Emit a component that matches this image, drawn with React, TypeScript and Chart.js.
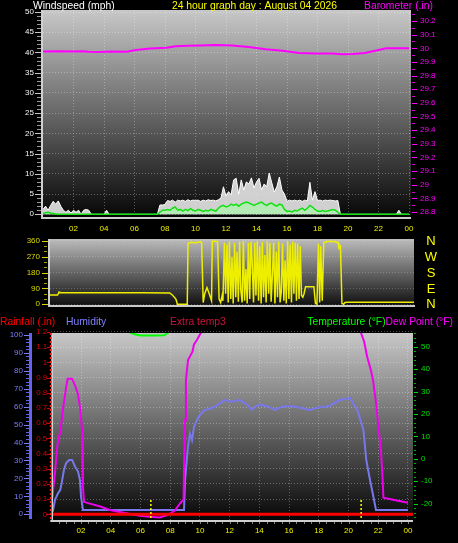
import React, { useEffect, useRef } from "react";
import { Chart, registerables } from "chart.js";

Chart.register(...registerables);

// ---------- tick labels ----------
const hourTicks = [2, 4, 6, 8, 10, 12, 14, 16, 18, 20, 22, 24];
const hourLabels = ["02", "04", "06", "08", "10", "12", "14", "16", "18", "20", "22", "00"];
const windTicks = [0, 5, 10, 15, 20, 25, 30, 35, 40, 45, 50];
const baroTicks = [28.8, 28.9, 29.0, 29.1, 29.2, 29.3, 29.4, 29.5, 29.6, 29.7, 29.8, 29.9, 30.0, 30.1, 30.2];
const dirTicks = [0, 90, 180, 270, 360];
const compassLabels = ["N", "E", "S", "W", "N"];
const humTicks = [0, 10, 20, 30, 40, 50, 60, 70, 80, 90, 100];
const rainTicks = [0, 0.1, 0.2, 0.3, 0.4, 0.5, 0.6, 0.7, 0.8, 0.9, 1.0, 1.1, 1.2];
const tempTicks = [-20, -10, 0, 10, 20, 30, 40, 50];

// ---------- titles ----------
const titleWind = "Windspeed (mph)";
const titleDate = "24 hour graph day : August 04 2026";
const titleBaro = "Barometer (.in)";
const titleRain = "Rainfall (.in)";
const titleHum = "Humidity";
const titleExtra = "Extra temp3";
const titleTemp = "Temperature (°F)";
const titleDew = "Dew Point (°F)";

// ---------- wind (10-minute samples, mph) ----------
const windSampleMinutes = 10;
const windGust = [
  1.2, 2.0, 1.0, 2.2, 3.2, 2.5, 3.3, 2.0, 1.0, 0.5, 1.0, 0.3, 1.0, 0.5, 1.0, 0, 1.0, 1.2, 1.0,
  0, 0, 0, 0, 0, 0,
  1.0,
  0, 0, 0, 0, 0, 0, 0, 0, 0, 0, 0, 0, 0, 0, 0, 0, 0, 0, 0, 0,
  2.3, 2.3, 2.4, 3.4, 3.2, 3.5, 3.0, 3.5, 3.3, 3.5, 3.2, 3.6, 3.3, 3.5, 3.4, 3.5, 3.2, 3.5, 3.3, 3.6, 3.4, 3.5, 3.3, 3.6,
  4.0, 6.8, 4.5, 5.6, 4.8, 8.5, 8.9, 5.0, 8.5, 6.0, 8.0, 7.5, 9.0, 6.5, 8.0, 8.9, 6.0, 7.5, 6.8, 10.2, 7.8, 5.5, 6.8, 9.2, 6.0, 5.0,
  3.2, 3.5, 3.3, 3.5, 3.3, 3.5, 3.2, 3.5, 3.3, 7.9, 3.5, 5.6, 3.4, 3.5, 3.3, 3.5, 3.4, 3.5, 3.4, 3.3, 3.4,
  0, 0, 0, 0, 0, 0, 0, 0, 0, 0, 0, 0, 0, 0, 0, 0, 0, 0, 0, 0, 0, 0, 0,
  1.0,
  0, 0, 0, 0,
];
const windAvg = [
  0.2, 0.4, 0.5, 0.3, 0.2, 0.1, 0, 0, 0,
  0, 0, 0, 0, 0, 0, 0, 0, 0, 0, 0, 0, 0, 0, 0, 0, 0, 0, 0, 0, 0, 0, 0, 0, 0, 0, 0, 0, 0, 0, 0, 0, 0, 0, 0, 0, 0,
  0.5, 1.0, 1.0, 1.2, 1.0, 1.5, 1.8, 1.0, 1.2, 0.8, 1.2, 0.9, 1.4, 1.0, 0.8, 1.2, 1.0, 0.7, 1.0, 0.8, 1.2, 1.0, 0.8, 1.5,
  2.0, 2.2, 1.8, 2.0, 2.5, 2.2, 2.5, 2.0, 2.5, 2.8, 3.0, 2.8, 2.5, 2.2, 2.5, 2.8, 3.0, 2.5, 2.2, 2.6, 2.8, 2.3, 2.0, 2.5, 2.3, 1.2,
  0.7, 0.8, 0.6, 1.0, 0.8, 1.2, 1.5, 1.0, 1.5, 2.2, 1.8, 1.2, 0.8, 0.7, 0.9, 0.7, 0.8, 1.0, 1.2, 1.0, 0.5,
  0, 0, 0, 0, 0, 0, 0, 0, 0, 0, 0, 0, 0, 0, 0, 0, 0, 0, 0, 0, 0, 0, 0, 0, 0, 0, 0, 0,
];

// ---------- barometer (hours, inHg) ----------
const baroTimes = [0, 1, 2, 2.6, 3, 3.7, 4.5, 5.5, 6.1, 7.0, 8.1, 8.7, 9.5, 10.3, 11.3, 12.4, 13.5, 14.6, 15.7, 16.8, 17.9, 19.0, 19.6, 20.3, 21.1, 22.0, 22.5, 23.2, 24];
const baroValues = [29.976, 29.978, 29.976, 29.979, 29.975, 29.973, 29.976, 29.975, 29.988, 29.998, 30.005, 30.015, 30.018, 30.02, 30.024, 30.02, 30.01, 29.993, 29.982, 29.966, 29.962, 29.962, 29.956, 29.958, 29.966, 29.988, 30.0, 30.0, 30.0];

// ---------- wind direction (hours, degrees) ----------
const dirTimes = [
  0, 0.5, 0.6, 0.7, 3, 6, 7.9, 8.1, 8.3, 8.4,
  9.05, 9.1, 9.3, 9.6, 9.9, 10.0, 10.1, 10.2, 10.35, 10.5,
  10.65, 10.7, 10.9, 11.05, 11.15, 11.25, 11.35, 11.4, 11.5, 11.58,
  11.67, 11.75, 11.83, 11.92, 12.0, 12.08, 12.17, 12.25, 12.33, 12.42,
  12.5, 12.58, 12.67, 12.75, 12.83, 12.92, 13.0, 13.08, 13.17, 13.25,
  13.33, 13.42, 13.5, 13.58, 13.67, 13.75, 13.83, 13.92, 14.0, 14.08,
  14.17, 14.25, 14.33, 14.42, 14.5, 14.58, 14.67, 14.75, 14.83, 14.92,
  15.0, 15.08, 15.17, 15.25, 15.33, 15.42, 15.5, 15.58, 15.67, 15.75,
  15.83, 15.92, 16.0, 16.08, 16.17, 16.25, 16.33, 16.42, 16.5, 16.58,
  16.67, 16.75, 16.85, 17.4, 17.5, 17.6, 17.7, 17.78, 17.85, 17.95,
  18.05, 18.2, 18.5, 18.8, 19.0, 19.05, 19.15, 19.25, 19.35, 19.45,
  19.6, 24,
];
const dirValues = [
  53, 53, 70, 66, 66, 65, 64, 50, 30, 0,
  0, 345, 352, 350, 355, 350, 10, 60, 95, 60,
  20, 358, 358, 355, 30, 10, 50, 20, 350, 60,
  340, 10, 355, 30, 270, 5, 350, 40, 300, 15,
  355, 80, 10, 358, 20, 200, 5, 350, 30, 355,
  240, 10, 350, 50, 358, 20, 330, 5, 355, 40,
  280, 10, 358, 60, 350, 15, 180, 350, 5, 300,
  40, 355, 10, 70, 345, 20, 250, 5, 358, 30,
  340, 10, 355, 60, 350, 20, 345, 30, 330, 50,
  40, 60, 100, 100, 5, 0, 345, 10, 330, 20,
  350, 355, 358, 355, 350, 320, 330, 5, 0, 10,
  12, 12,
];

// ---------- humidity (hours, %) ----------
const humTimes = [
  0.1, 0.25, 0.45, 0.6, 0.7, 0.85, 1.0, 1.2, 1.4, 1.6,
  1.8, 1.93, 2.0, 2.13, 5.0, 8.93, 9.0, 9.2, 9.33, 9.47,
  9.6, 9.8, 10.0, 10.3, 10.7, 11.0, 11.35, 11.7, 12.0, 12.7,
  13.2, 13.5, 13.8, 14.2, 14.6, 15.05, 15.5, 16.1, 16.7, 17.4,
  18.0, 18.7, 19.4, 20.1, 20.6, 21.0, 21.2, 21.45, 21.65, 21.85,
  24,
];
const humValues = [
  1.5, 8, 11.7, 13.5, 17.5, 24.7, 28.6, 30.3, 30.3, 26.5,
  23.8, 19, 9.8, 2.4, 2.4, 2.4, 19, 37.7, 45, 41.4,
  48.8, 52.6, 55.4, 58, 59, 60, 62, 63.8, 62.8, 63.7,
  61, 58.2, 60.5, 61, 60, 58.2, 60, 60.4, 59.5, 58.2,
  59.5, 60.4, 63.7, 64.9, 58, 47, 30, 19, 10.8, 2.4,
  2.4,
];

// ---------- dew point (hours, °F) ----------
const dewTimes = [
  0.05, 0.25, 0.4, 0.5, 0.6, 0.8, 1.0, 1.1, 1.4, 1.65,
  1.8, 1.93, 2.07, 2.13, 2.2, 2.6, 3.3, 3.95, 4.6, 5.3,
  5.97, 6.6, 7.3, 7.85, 8.3, 8.7, 8.9, 8.93, 9.0, 9.06,
  9.2, 9.5, 9.6, 9.8, 10.0, 10.2, 10.5, 15, 20.5, 20.85,
  21.05, 21.25, 21.5, 21.65, 21.85, 22.05, 22.2, 22.3, 22.35, 23.0,
  24,
];
const dewValues = [
  -18.3, -6, 5.4, 9.8, 11.6, 23, 32, 35.7, 35.7, 31.7,
  28.6, 23, 13, -12.4, -19.2, -20, -21.3, -22.8, -23.7, -24.6,
  -25.4, -25.9, -26.2, -25, -23.2, -19.6, -18.3, -5, 17.4, 35,
  44, 47.8, 51, 53, 55.4, 57.6, 62, 66, 62, 56,
  52.3, 45.6, 39.7, 35, 25, 12, 2, -10, -17.4, -18.3,
  -19.6,
];

// ---------- temperature (hours, °F) ----------
const tempTimes = [0, 2, 4, 5.0, 5.3, 5.6, 6.0, 7.0, 7.6, 7.85, 8.0, 8.5, 10, 14, 20, 24];
const tempValues = [62, 61, 59, 57.2, 56.3, 55.5, 55, 55, 55.1, 56.2, 57, 59, 64, 70, 66, 62];

// ---------- rainfall (hours, in) ----------
const rainTimes = [0, 24.34];
const rainValues = [0, 0];

// ---------- sunrise / sunset (hours) ----------
const sunTimes = [6.7, 20.85];

// ---------- helpers ----------
const FONT = '"Liberation Sans", Arial, Helvetica, sans-serif';
const GRID = "rgba(255,255,255,0.30)";

const pts = (xs: number[], ys: number[]) => xs.map((x, i) => ({ x, y: ys[i] }));
const fixTicks = (values: number[]) => (scale: any) => {
  scale.ticks = values.map((value) => ({ value }));
};
const noPad = (scale: any) => {
  scale.paddingTop = 0;
  scale.paddingBottom = 0;
  scale.paddingLeft = 0;
  scale.paddingRight = 0;
};
const fixWidth = (w: number) => (scale: any) => {
  scale.width = w;
  noPad(scale);
};
const fixHeight = (h: number) => (scale: any) => {
  scale.height = h;
  noPad(scale);
};
const fmt = (v: any) => String(Math.round(Number(v) * 100) / 100);
const hourLabel = (v: any) => {
  const i = hourTicks.indexOf(Number(v));
  return i >= 0 ? hourLabels[i] : "";
};

function drawText(ctx: CanvasRenderingContext2D, text: string, x: number, y: number, color: string, size: number, align: "left" | "right" | "center", sx = 0.9) {
  ctx.save();
  ctx.font = `${size}px ${FONT}`;
  ctx.fillStyle = color;
  ctx.textBaseline = "alphabetic";
  ctx.textAlign = "left";
  const w = ctx.measureText(text).width * sx;
  const left = align === "left" ? x : align === "right" ? x - w : x - w / 2;
  ctx.translate(left, y);
  ctx.scale(sx, 1);
  ctx.fillText(text, 0, 0);
  ctx.restore();
}

function bgGradient(ctx: CanvasRenderingContext2D, a: any, top: string, bottom: string) {
  const g = ctx.createLinearGradient(0, a.top, 0, a.bottom);
  g.addColorStop(0, top);
  g.addColorStop(1, bottom);
  ctx.save();
  ctx.fillStyle = g;
  ctx.fillRect(a.left, a.top, a.right - a.left, a.bottom - a.top);
  ctx.restore();
}

function yTickMarks(ctx: CanvasRenderingContext2D, scale: any, from: number, to: number, step: number, x0: number, x1: number, color: string, width = 1) {
  ctx.save();
  ctx.strokeStyle = color;
  ctx.lineWidth = width;
  ctx.beginPath();
  const n = Math.round((to - from) / step);
  for (let k = 0; k <= n; k++) {
    const y = Math.round(scale.getPixelForValue(from + k * step)) + 0.5;
    ctx.moveTo(x0, y);
    ctx.lineTo(x1, y);
  }
  ctx.stroke();
  ctx.restore();
}

function line(ctx: CanvasRenderingContext2D, x0: number, y0: number, x1: number, y1: number, color: string, width: number, dash: number[] = []) {
  ctx.save();
  ctx.strokeStyle = color;
  ctx.lineWidth = width;
  ctx.setLineDash(dash);
  ctx.beginPath();
  ctx.moveTo(x0, y0);
  ctx.lineTo(x1, y1);
  ctx.stroke();
  ctx.restore();
}

const tickFont = { family: FONT, size: 8 };

export default function App() {
  const r1 = useRef<HTMLCanvasElement>(null);
  const r2 = useRef<HTMLCanvasElement>(null);
  const r3 = useRef<HTMLCanvasElement>(null);

  useEffect(() => {
    const windTimes = windGust.map((_, i) => (i * windSampleMinutes) / 60);

    // ---------------- top: wind + barometer ----------------
    const c1 = new Chart(r1.current as HTMLCanvasElement, {
      type: "line",
      data: {
        datasets: [
          { label: titleBaro, data: pts(baroTimes, baroValues), yAxisID: "yBaro", borderColor: "#ff00ff", borderWidth: 2, pointRadius: 0, order: 0 },
          { label: "Wind average", data: pts(windTimes, windAvg), yAxisID: "yWind", borderColor: "#12e012", borderWidth: 1.5, backgroundColor: "rgba(175,240,175,0.8)", fill: "origin", pointRadius: 0, order: 1 },
          { label: "Wind gust", data: pts(windTimes, windGust), yAxisID: "yWind", borderColor: "#ffffff", borderWidth: 1, backgroundColor: "rgba(225,225,225,0.92)", fill: "origin", pointRadius: 0, order: 2 },
        ],
      },
      options: {
        animation: false,
        responsive: false,
        events: [],
        layout: { autoPadding: false, padding: { top: 10, left: 0, right: 0, bottom: 0 } },
        plugins: { legend: { display: false }, tooltip: { enabled: false } },
        scales: {
          x: {
            type: "linear", min: 0, max: 24.13,
            afterBuildTicks: fixTicks(hourTicks), afterFit: fixHeight(19),
            grid: { color: GRID, drawTicks: false }, border: { display: false, dash: [1, 2] },
            ticks: { color: "#eeee00", font: tickFont, padding: 7, autoSkip: false, maxRotation: 0, callback: hourLabel },
          },
          yWind: {
            type: "linear", position: "left", min: -0.67, max: 50.5,
            afterBuildTicks: fixTicks(windTicks), afterFit: fixWidth(43),
            grid: { color: GRID, drawTicks: false }, border: { display: false, dash: [1, 2] },
            ticks: { color: "#f4f4f4", font: tickFont, padding: 9, callback: fmt },
          },
          yBaro: {
            type: "linear", position: "right", min: 28.763, max: 30.281,
            afterBuildTicks: fixTicks(baroTicks), afterFit: fixWidth(47),
            grid: { display: false, drawTicks: false }, border: { display: false },
            ticks: { color: "#ff00ff", font: tickFont, padding: 9, callback: fmt },
          },
        },
      } as any,
      plugins: [
        {
          id: "topDeco",
          beforeDraw(chart: any) {
            bgGradient(chart.ctx, chart.chartArea, "#c8c8c8", "#060606");
          },
          afterDraw(chart: any) {
            const ctx = chart.ctx;
            const a = chart.chartArea;
            const yW = chart.scales.yWind;
            const yB = chart.scales.yBaro;
            line(ctx, a.left - 1, a.top, a.left - 1, a.bottom + 2, "#d0d0d0", 2);
            line(ctx, a.left - 2, a.bottom + 1, a.right, a.bottom + 1, "#d0d0d0", 2);
            yTickMarks(ctx, yW, 0, 50, 1, 37, 41, "#9a9a9a");
            yTickMarks(ctx, yW, 0, 50, 5, 35, 42, "#c8c8c8");
            yTickMarks(ctx, yB, 28.8, 30.25, 0.05, a.right + 1, a.right + 4, "#d000d0");
            yTickMarks(ctx, yB, 28.8, 30.2, 0.1, a.right + 1, a.right + 6, "#ff00ff");
            drawText(ctx, titleWind, 33, 9, "#ffffff", 11.5, "left");
            drawText(ctx, titleDate, 254.5, 9, "#ffff00", 11.5, "center");
            drawText(ctx, titleBaro, 433, 9, "#ff00ff", 11.5, "right");
          },
        },
      ],
    });

    // ---------------- middle: wind direction ----------------
    const c2 = new Chart(r2.current as HTMLCanvasElement, {
      type: "line",
      data: {
        datasets: [
          { label: "Wind direction", data: pts(dirTimes, dirValues), yAxisID: "yDir", borderColor: "#eeee00", borderWidth: 1.5, pointRadius: 0 },
        ],
      },
      options: {
        animation: false,
        responsive: false,
        events: [],
        layout: { autoPadding: false, padding: { top: 7, left: 0, right: 44, bottom: 6 } },
        plugins: { legend: { display: false }, tooltip: { enabled: false } },
        scales: {
          x: { type: "linear", min: 0, max: 24, display: false },
          yDir: {
            type: "linear", position: "left", min: -9.7, max: 371,
            afterBuildTicks: fixTicks(dirTicks), afterFit: fixWidth(50),
            grid: { color: "rgba(255,255,255,0.22)", drawTicks: false }, border: { display: false, dash: [1, 2] },
            ticks: { color: "#d8d800", font: tickFont, padding: 10, callback: fmt },
          },
        },
      } as any,
      plugins: [
        {
          id: "midDeco",
          beforeDraw(chart: any) {
            bgGradient(chart.ctx, chart.chartArea, "#bcbcbc", "#0e0e0e");
          },
          afterDraw(chart: any) {
            const ctx = chart.ctx;
            const a = chart.chartArea;
            const yD = chart.scales.yDir;
            line(ctx, a.left - 1, a.top, a.left - 1, a.bottom + 1, "#d0d0d0", 2);
            line(ctx, a.left - 2, a.bottom, a.right + 1, a.bottom, "#c8c8c8", 2);
            yTickMarks(ctx, yD, 0, 360, 30, 44, 47, "#a0a000");
            yTickMarks(ctx, yD, 0, 360, 90, 42, 48, "#d8d800");
            ctx.save();
            ctx.font = `13px ${FONT}`;
            ctx.fillStyle = "#ffff00";
            ctx.textAlign = "center";
            ctx.textBaseline = "middle";
            dirTicks.forEach((v, i) => ctx.fillText(compassLabels[i], 431, yD.getPixelForValue(v) + 0.5));
            ctx.restore();
          },
        },
      ],
    });

    // ---------------- bottom: rain / humidity / temperature ----------------
    const c3 = new Chart(r3.current as HTMLCanvasElement, {
      type: "line",
      data: {
        datasets: [
          { label: titleRain, data: pts(rainTimes, rainValues), yAxisID: "yRain", borderColor: "#ff0000", borderWidth: 3, pointRadius: 0, order: 0 },
          { label: titleDew, data: pts(dewTimes, dewValues), yAxisID: "yTemp", borderColor: "#ee00ee", borderWidth: 2, pointRadius: 0, order: 1 },
          { label: titleHum, data: pts(humTimes, humValues), yAxisID: "yHum", borderColor: "#7878ec", borderWidth: 2, pointRadius: 0, order: 2 },
          { label: titleTemp, data: pts(tempTimes, tempValues), yAxisID: "yTemp", borderColor: "#00ff00", borderWidth: 2, pointRadius: 0, order: 3 },
        ],
      },
      options: {
        animation: false,
        responsive: false,
        events: [],
        layout: { autoPadding: false, padding: { top: 21, left: 0, right: 0, bottom: 0 } },
        plugins: { legend: { display: false }, tooltip: { enabled: false } },
        scales: {
          x: {
            type: "linear", min: 0, max: 24.34,
            afterBuildTicks: fixTicks(hourTicks), afterFit: fixHeight(23),
            grid: { color: GRID, drawTicks: false }, border: { display: false, dash: [1, 2] },
            ticks: { color: "#eeee00", font: tickFont, padding: 6, autoSkip: false, maxRotation: 0, callback: hourLabel },
          },
          yHum: {
            type: "linear", position: "left", weight: 1, min: -3.2, max: 101.1,
            afterBuildTicks: fixTicks(humTicks), afterFit: fixWidth(30),
            grid: { display: false, drawTicks: false }, border: { display: false },
            ticks: { color: "#7c7cff", font: tickFont, padding: 7, callback: fmt },
          },
          yRain: {
            type: "linear", position: "left", weight: 0, min: -0.0375, max: 1.193,
            afterBuildTicks: fixTicks(rainTicks), afterFit: fixWidth(21.3),
            grid: { color: GRID, drawTicks: false }, border: { display: false, dash: [1, 2] },
            ticks: { color: "#e00000", font: tickFont, padding: 4, callback: fmt },
          },
          yTemp: {
            type: "linear", position: "right", min: -27.3, max: 56.1,
            afterBuildTicks: fixTicks(tempTicks), afterFit: fixWidth(45),
            grid: { display: false, drawTicks: false }, border: { display: false },
            ticks: { color: "#00e000", font: tickFont, padding: 8, callback: fmt },
          },
        },
      } as any,
      plugins: [
        {
          id: "botDeco",
          beforeDraw(chart: any) {
            bgGradient(chart.ctx, chart.chartArea, "#c8c8c8", "#060606");
          },
          afterDraw(chart: any) {
            const ctx = chart.ctx;
            const a = chart.chartArea;
            const xs = chart.scales.x;
            const yH = chart.scales.yHum;
            const yR = chart.scales.yRain;
            const yT = chart.scales.yTemp;
            line(ctx, a.left + 1, a.top, a.left + 1, a.bottom + 1, "#d0d0d0", 1.5);
            line(ctx, a.left - 1, a.bottom + 1, a.right, a.bottom + 1, "#d0d0d0", 2);
            line(ctx, a.left - 0.5, a.top, a.left - 0.5, a.bottom, "#ff2020", 2, [2, 2]);
            // humidity axis
            line(ctx, 30.5, a.top, 30.5, a.bottom - 1, "#6464f0", 3);
            yTickMarks(ctx, yH, 0, 100, 2, 26, 29, "#6060e0");
            yTickMarks(ctx, yH, 0, 100, 10, 24, 29, "#7c7cff");
            // rain ticks
            yTickMarks(ctx, yR, 0, 1.2, 0.1, 47, 50, "#e00000");
            // temperature ticks
            yTickMarks(ctx, yT, -26, 56, 2, a.right + 1, a.right + 3, "#00b000");
            yTickMarks(ctx, yT, -20, 50, 10, a.right + 1, a.right + 5, "#00e000");
            // x minor ticks
            ctx.save();
            ctx.strokeStyle = "#808080";
            ctx.lineWidth = 1;
            ctx.beginPath();
            for (let k = 1; k <= 48; k++) {
              const x = Math.round(xs.getPixelForValue(k / 2)) + 0.5;
              ctx.moveTo(x, a.bottom + 2);
              ctx.lineTo(x, a.bottom + 4);
            }
            ctx.stroke();
            ctx.restore();
            // sunrise / sunset markers
            sunTimes.forEach((t) => {
              const x = xs.getPixelForValue(t);
              line(ctx, x, a.bottom - 20, x, a.bottom, "#ffff00", 1.5, [2, 2]);
            });
            // series titles
            drawText(ctx, titleRain, 0, 13, "#ff0000", 11.5, "left");
            drawText(ctx, titleHum, 66, 13, "#8080ff", 11.5, "left");
            drawText(ctx, titleExtra, 170, 13, "#c8143c", 11.5, "left");
            drawText(ctx, titleDew, 453, 13, "#ff00ff", 11.5, "right");
            ctx.save();
            ctx.font = `11.5px ${FONT}`;
            const dewW = ctx.measureText(titleDew).width * 0.9;
            ctx.restore();
            drawText(ctx, titleTemp, 453 - dewW, 13, "#00ff00", 11.5, "right");
          },
        },
      ],
    });

    return () => {
      c1.destroy();
      c2.destroy();
      c3.destroy();
    };
  }, []);

  return (
    <div style={{ position: "fixed", left: 0, top: 0, width: 458, height: 543, background: "#000", overflow: "hidden" }}>
      <canvas ref={r1} width={458} height={236} style={{ position: "absolute", left: 0, top: 0, width: 458, height: 236 }} />
      <canvas ref={r2} width={458} height={80} style={{ position: "absolute", left: 0, top: 232, width: 458, height: 80 }} />
      <canvas ref={r3} width={458} height={231} style={{ position: "absolute", left: 0, top: 312, width: 458, height: 231 }} />
    </div>
  );
}
